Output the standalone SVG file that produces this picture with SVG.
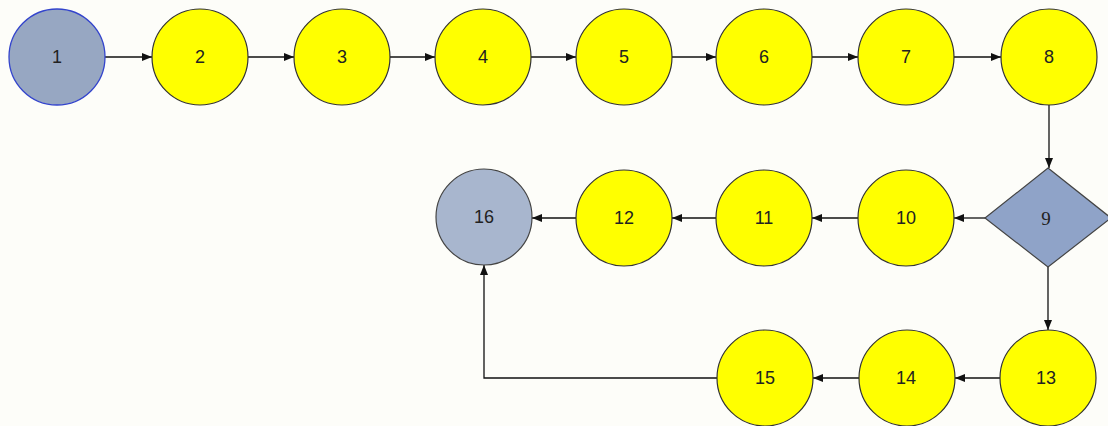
<svg xmlns="http://www.w3.org/2000/svg" width="1108" height="426" viewBox="0 0 1108 426">
<defs>
<marker id="arr" viewBox="0 0 10 8" refX="10" refY="4" markerWidth="10" markerHeight="8" markerUnits="userSpaceOnUse" orient="auto">
<path d="M0,0 L10,4 L0,8 Z" fill="#111"/>
</marker>
<style>
.y{fill:#FFFF00;stroke:#333;stroke-width:1.2}
.g{fill:#A8B6CE;stroke:#444;stroke-width:1.2}
.t{font-family:"Liberation Sans",Arial,sans-serif;font-size:18px;fill:#222;text-anchor:middle;dominant-baseline:central}
.s{font-family:"Liberation Serif","Times New Roman",serif;font-size:19px;fill:#222;text-anchor:middle;dominant-baseline:central}
.c{fill:none;stroke:#111;stroke-width:1.3;marker-end:url(#arr)}
</style>
</defs>
<rect width="1108" height="426" fill="#FDFDF9"/>
<g id="connectors">
<line class="c" x1="105" y1="57" x2="152" y2="57"/>
<line class="c" x1="248" y1="57" x2="294" y2="57"/>
<line class="c" x1="390" y1="57" x2="435" y2="57"/>
<line class="c" x1="531" y1="57" x2="576" y2="57"/>
<line class="c" x1="672" y1="57" x2="716" y2="57"/>
<line class="c" x1="812" y1="57" x2="858" y2="57"/>
<line class="c" x1="954" y1="57" x2="1001" y2="57"/>
<line class="c" x1="1049" y1="105" x2="1049" y2="168"/>
<line class="c" x1="985" y1="218" x2="954" y2="218"/>
<line class="c" x1="1048" y1="267" x2="1048" y2="330"/>
<line class="c" x1="858" y1="218" x2="812" y2="218"/>
<line class="c" x1="716" y1="218" x2="672" y2="218"/>
<line class="c" x1="576" y1="218" x2="532" y2="218"/>
<line class="c" x1="1000" y1="378" x2="955" y2="378"/>
<line class="c" x1="859" y1="378" x2="813" y2="378"/>
<polyline class="c" points="717,378 484,378 484,265"/>
</g>
<g id="n1"><circle cx="57" cy="57" r="48" fill="#97A7C2" stroke="#3344CC" stroke-width="1.3"/><text class="t" x="57" y="57">1</text></g>
<g id="n2"><circle class="y" cx="200" cy="57" r="48"/><text class="t" x="200" y="57">2</text></g>
<g id="n3"><circle class="y" cx="342" cy="57" r="48"/><text class="t" x="342" y="57">3</text></g>
<g id="n4"><circle class="y" cx="483" cy="57" r="48"/><text class="t" x="483" y="57">4</text></g>
<g id="n5"><circle class="y" cx="624" cy="57" r="48"/><text class="t" x="624" y="57">5</text></g>
<g id="n6"><circle class="y" cx="764" cy="57" r="48"/><text class="t" x="764" y="57">6</text></g>
<g id="n7"><circle class="y" cx="906" cy="57" r="48"/><text class="t" x="906" y="57">7</text></g>
<g id="n8"><circle class="y" cx="1049" cy="57" r="48"/><text class="t" x="1049" y="57">8</text></g>
<g id="n9"><polygon points="1048,168 1111,218 1048,267 985,218" fill="#8FA3C8" stroke="#444" stroke-width="1.2"/><text class="s" x="1046" y="218">9</text></g>
<g id="n10"><circle class="y" cx="906" cy="218" r="48"/><text class="t" x="906" y="218">10</text></g>
<g id="n11"><circle class="y" cx="764" cy="218" r="48"/><text class="t" x="764" y="218">11</text></g>
<g id="n12"><circle class="y" cx="624" cy="218" r="48"/><text class="t" x="624" y="218">12</text></g>
<g id="n16"><circle class="g" cx="484" cy="217" r="48"/><text class="t" x="484" y="217">16</text></g>
<g id="n13"><circle class="y" cx="1048" cy="378" r="48"/><text class="t" x="1046" y="378">13</text></g>
<g id="n14"><circle class="y" cx="907" cy="378" r="48"/><text class="t" x="906" y="378">14</text></g>
<g id="n15"><circle class="y" cx="765" cy="378" r="48"/><text class="t" x="765" y="378">15</text></g>
</svg>
